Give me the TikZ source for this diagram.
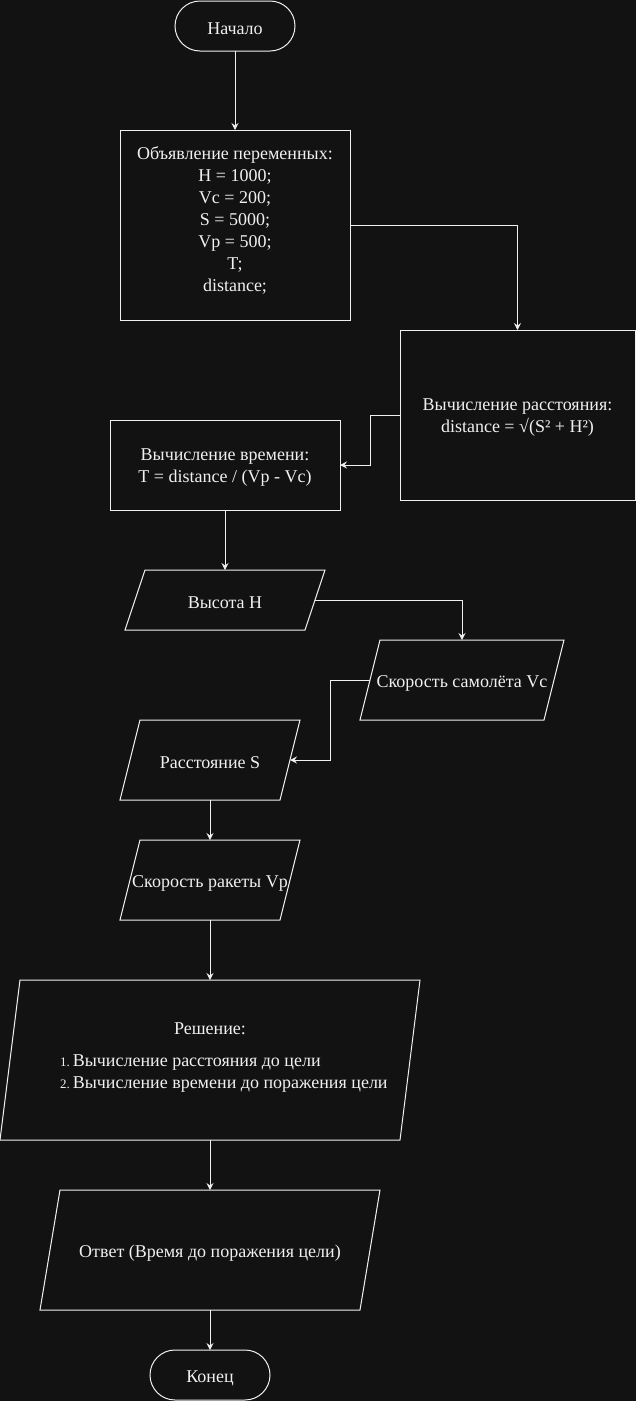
\documentclass[tikz,border=0pt]{standalone}
\usepackage{fontspec}
\setmainfont{Liberation Serif}
\usetikzlibrary{arrows.meta}
\definecolor{bg}{RGB}{18,18,18}
\definecolor{fg}{RGB}{240,240,240}
\begin{document}
\begin{tikzpicture}[x=1pt,y=-1pt,
  every node/.style={text=fg, font=\fontsize{18}{22}\selectfont, inner sep=0pt, outer sep=0pt, align=center},
  proc/.style={draw=fg, line width=1pt, rectangle},
  term/.style={draw=fg, line width=1pt, rectangle, rounded corners=25pt},
  io/.style={rectangle},
  txt/.style={yshift=-3pt},
  para/.style={draw=fg, line width=1pt, line join=miter},
  conn/.style={draw=fg, line width=1pt, -{Stealth[length=7pt,width=7pt,inset=2.5pt]}}
]
\fill[bg] (0,0) rectangle (636,1401);
\useasboundingbox (0,0) rectangle (636,1401);

% shapes
\node[term, minimum width=120pt, minimum height=50pt] (start) at (235,26) {};
\node[proc, minimum width=230pt, minimum height=190pt] (decl) at (235,225) {};
\node[proc, minimum width=235pt, minimum height=170pt] (dist) at (517.5,415) {};
\node[proc, minimum width=230pt, minimum height=90pt] (time) at (225,465) {};
\node[io, minimum width=180pt, minimum height=60pt] (hh) at (225,600) {};
\node[io, minimum width=184pt, minimum height=80pt] (vc) at (462,680) {};
\node[io, minimum width=160pt, minimum height=80pt] (ss) at (210,760) {};
\node[io, minimum width=160pt, minimum height=80pt] (vp) at (210,880) {};
\node[io, minimum width=400pt, minimum height=160pt] (sol) at (210,1060) {};
\node[io, minimum width=320pt, minimum height=120pt] (ans) at (210,1250) {};
\node[term, minimum width=120pt, minimum height=50pt] (end) at (210,1375) {};

% texts
\node[txt] (startT) at (start) {Начало};
\node (declT) at (235,220.5) {Объявление переменных:\\H = 1000;\\Vc = 200;\\S = 5000;\\Vp = 500;\\T;\\distance;};
\node[txt] (distT) at (dist) {Вычисление расстояния:\\distance = √(S² + H²)};
\node[txt] (timeT) at (time) {Вычисление времени:\\T = distance / (Vp - Vc)};
\node[txt] (hhT) at (hh) {Высота H};
\node[txt] (vcT) at (vc) {Скорость самолёта Vc};
\node[txt] (ssT) at (ss) {Расстояние S};
\node[txt] (vpT) at (vp) {Скорость ракеты Vp};
\node (solTitle) at (210,1029) {Решение:};
\node[anchor=west, align=left] (solList) at (60,1074) {{\fontsize{13}{15}\selectfont 1.}\hspace{3pt}Вычисление расстояния до цели\\{\fontsize{13}{15}\selectfont 2.}\hspace{3pt}Вычисление времени до поражения цели};
\node[txt] (ansT) at (ans) {Ответ (Время до поражения цели)};
\node[txt] (endT) at (end) {Конец};

% parallelogram outlines
\foreach \n in {hh,vc,ss,vp,sol,ans}{
  \draw[para] ([xshift=10pt]\n.north west) -- ([xshift=10pt]\n.north east) -- ([xshift=-10pt]\n.south east) -- ([xshift=-10pt]\n.south west) -- cycle;
}

% connectors
\draw[conn] (start.south) -- (decl.north);
\draw[conn] (decl.east) -| (dist.north);
\draw[conn] (dist.west) -- ++(-30,0) |- (time.east);
\draw[conn] (time.south) -- (hh.north);
\draw[conn] (hh.east) -| (vc.north);
\draw[conn] (vc.west) -- ++(-40,0) |- (ss.east);
\draw[conn] (ss.south) -- (vp.north);
\draw[conn] (vp.south) -- (sol.north);
\draw[conn] (sol.south) -- (ans.north);
\draw[conn] (ans.south) -- (end.north);
\end{tikzpicture}
\end{document}
